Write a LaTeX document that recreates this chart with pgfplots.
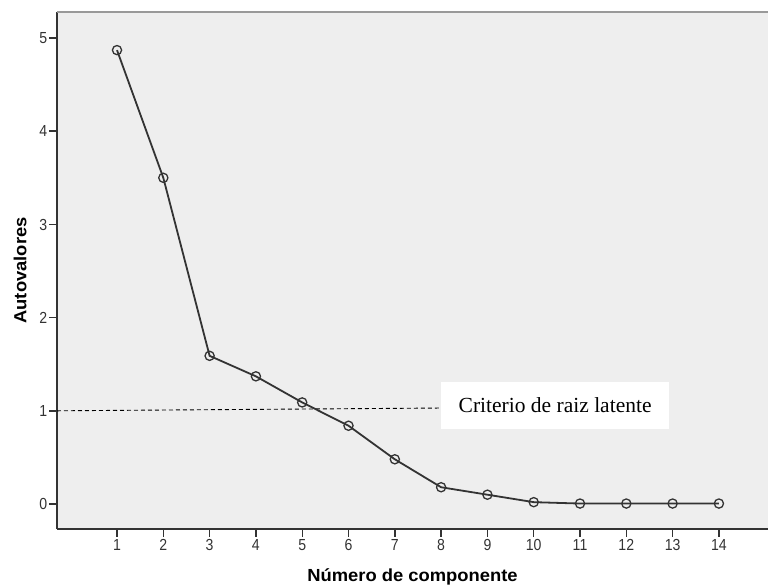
\documentclass[border=0pt]{standalone}
\usepackage{pgfplots}
\pgfplotsset{compat=1.18}
\usepackage{fontspec}
\setmainfont{Liberation Serif}
\newfontfamily\tickfont[FakeStretch=0.88]{Liberation Sans}
\newfontfamily\labelfont[FakeStretch=1.05]{Liberation Sans}
\definecolor{panel}{rgb}{0.935,0.935,0.935}
\definecolor{ink}{HTML}{333333}

\begin{document}
\begin{tikzpicture}[x=1pt,y=1pt]
% panel background
\fill[panel] (57,57) rectangle (768,574);
\begin{axis}[
  at={(57pt,57pt)}, anchor=south west,
  scale only axis, width=711pt, height=517pt,
  xmin=-0.296, xmax=15.06, ymin=-0.268, ymax=5.279,
  axis x line*=bottom, axis y line*=left,
  axis line style={draw=ink, line width=1.8pt, -},
  xtick={1,...,14}, ytick={0,...,5},
  tick style={draw=ink, line width=1.4pt},
  tick align=outside, major tick length=8pt,
  ticklabel style={font=\tickfont\fontsize{16}{16}\selectfont, text=ink,
    text height=11.5pt, text depth=0pt, inner sep=1.5pt},
  /pgf/number format/assume math mode=true,
  xlabel={Número de componente}, ylabel={Autovalores},
  label style={font=\labelfont\bfseries\fontsize{17.5}{17.5}\selectfont, text=black},
  xlabel style={at={(axis description cs:0.5,0)}, anchor=center, yshift=-48pt},
  ylabel style={at={(axis description cs:0,0.5)}, anchor=center, yshift=37pt},
  clip=false,
]
% top frame line of the panel
\draw[gray!80, line width=2pt] (rel axis cs:0,1) -- (rel axis cs:1,1);

% latent root criterion reference line
\addplot[black, line width=0.9pt, dash pattern=on 4pt off 3pt]
  coordinates {(-0.296,1) (8,1.03)};

% eigenvalues
\addplot[ink, line width=1.8pt, mark=o, mark size=4.6pt,
  mark options={fill=panel, line width=1.3pt, solid}]
  coordinates {
    (1,4.87) (2,3.50) (3,1.59) (4,1.37) (5,1.09) (6,0.84) (7,0.48)
    (8,0.18) (9,0.10) (10,0.02) (11,0.005) (12,0.005) (13,0.005) (14,0.005)
  };

\node[fill=white, minimum width=228pt, minimum height=47pt, inner sep=0pt,
  anchor=north west, font=\fontsize{21.5}{21.5}\selectfont]
  at (axis cs:7.996,1.309) {\raisebox{2pt}{Criterio de raiz latente}};
\end{axis}
\pgfresetboundingbox
\useasboundingbox (0,0) rectangle (768,586);
\end{tikzpicture}
\end{document}
